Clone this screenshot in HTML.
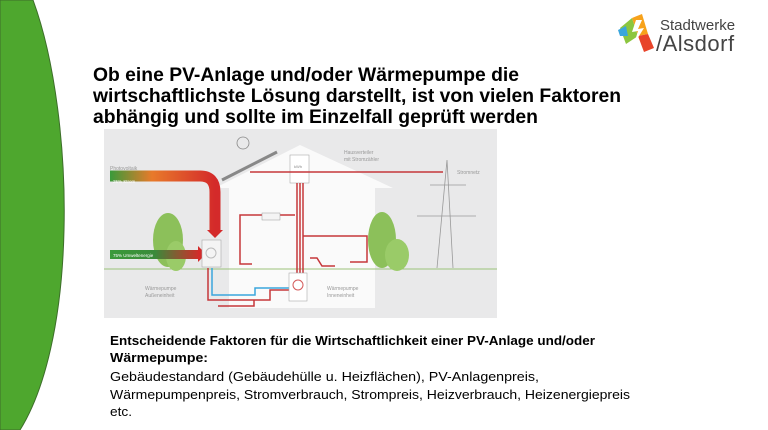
<!DOCTYPE html>
<html><head><meta charset="utf-8"><style>
html,body{margin:0;padding:0;background:#fff;width:768px;height:430px;overflow:hidden}
svg{display:block}
</style></head><body>
<svg width="768" height="430" viewBox="0 0 768 430" xmlns="http://www.w3.org/2000/svg" font-family="Liberation Sans, sans-serif">
<path d="M0,0 L33,0 C55,60 66,150 64,230 C62,320 45,390 20,430 L0,430 Z" fill="#4ea72e" stroke="#3d6e2a" stroke-width="1"/>
<!-- logo -->
<g transform="translate(618,14)">
<polygon points="2,14 14,4 20,22 8,30" fill="#8cc63f"/>
<polygon points="14,4 24,0 30,20 20,22" fill="#f7a21b"/>
<polygon points="20,22 30,20 36,34 26,38" fill="#e8442a"/>
<polygon points="0,16 8,12 10,22 2,22" fill="#3aa6dd"/>
<polygon points="18,6 14,18 20,17 16,30 26,14 20,15 24,6" fill="#fff"/>
</g>
<text x="660" y="30" font-size="15" fill="#444">Stadtwerke</text>
<text x="656" y="51" font-size="22" fill="#444" letter-spacing="0.5">/Alsdorf</text>
<!-- title -->
<g font-weight="bold" font-size="19" fill="#000">
<text x="93" y="81" textLength="426" lengthAdjust="spacingAndGlyphs">Ob eine PV-Anlage und/oder Wärmepumpe die</text>
<text x="93" y="102" textLength="528" lengthAdjust="spacingAndGlyphs">wirtschaftlichste Lösung darstellt, ist von vielen Faktoren</text>
<text x="93" y="123" textLength="445" lengthAdjust="spacingAndGlyphs">abhängig und sollte im Einzelfall geprüft werden</text>
</g>
<!-- diagram -->
<rect x="104" y="129" width="393" height="189" fill="#e9e9ea"/>
<polygon points="215,188 300,145 393,188 375,188 375,308 229,308 229,188" fill="#fafafa"/>
<line x1="104" y1="269" x2="497" y2="269" stroke="#9cc27a" stroke-width="1"/>
<ellipse cx="168" cy="240" rx="15" ry="27" fill="#8cc05a"/>
<ellipse cx="176" cy="256" rx="10" ry="15" fill="#9acb68"/>
<ellipse cx="382" cy="240" rx="14" ry="28" fill="#8cc05a"/>
<ellipse cx="397" cy="255" rx="12" ry="16" fill="#9acb68"/>
<g stroke="#999" stroke-width="0.8" fill="none">
<polyline points="437,268 447,160 453,268"/><line x1="430" y1="185" x2="466" y2="185"/><line x1="417" y1="216" x2="476" y2="216"/>
</g>
<text x="457" y="174" font-size="5" fill="#999">Stromnetz</text>
<circle cx="243" cy="143" r="6" fill="none" stroke="#888" stroke-width="0.8"/>
<line x1="222" y1="180" x2="277" y2="152" stroke="#888" stroke-width="3"/>
<defs><linearGradient id="g1" x1="0" x2="1"><stop offset="0" stop-color="#3a9a3a"/><stop offset="0.4" stop-color="#e87a2a"/><stop offset="1" stop-color="#d42a2a"/></linearGradient>
<linearGradient id="g2" x1="0" x2="1"><stop offset="0" stop-color="#3a9a3a"/><stop offset="0.5" stop-color="#3a8a3a"/><stop offset="1" stop-color="#d42a2a"/></linearGradient></defs>
<path d="M110,176 L200,176 Q215,176 215,192 L215,230" stroke="url(#g1)" stroke-width="11" fill="none"/>
<polygon points="207,230 223,230 215,238" fill="#d42a2a"/>
<rect x="110" y="250" width="90" height="9" fill="url(#g2)"/>
<polygon points="198,246 206,254 198,262" fill="#d42a2a"/>
<text x="113" y="183" font-size="4.5" fill="#fff">25% Strom</text>
<text x="113" y="257" font-size="4.5" fill="#fff">75% Umweltenergie</text>
<text x="110" y="170" font-size="5" fill="#999">Photovoltaik</text>
<rect x="202" y="240" width="19" height="27" fill="#f4f4f4" stroke="#aaa" stroke-width="0.6"/>
<circle cx="211" cy="253" r="5" fill="none" stroke="#bbb"/>
<text x="145" y="290" font-size="5" fill="#999">Wärmepumpe</text>
<text x="145" y="297" font-size="5" fill="#999">Außeneinheit</text>
<rect x="290" y="155" width="19" height="28" fill="#fff" stroke="#aaa" stroke-width="0.6"/>
<text x="294" y="168" font-size="4" fill="#888">kWh</text>
<text x="344" y="154" font-size="5" fill="#999">Hausverteiler</text>
<text x="344" y="161" font-size="5" fill="#999">mit Stromzähler</text>
<g stroke="#c6373a" stroke-width="1.5" fill="none">
<line x1="250" y1="172" x2="443" y2="172"/>
<line x1="297" y1="183" x2="297" y2="273"/><line x1="300" y1="183" x2="300" y2="273"/><line x1="303" y1="183" x2="303" y2="273"/>
<path d="M295,215 L240,215 L240,264 L252,264"/>
<path d="M303,236 L367,236 L367,262 L350,262"/>
<path d="M310,258 L317,258 L322,266 L335,266"/>
<path d="M208,268 L208,300 L270,300 L270,290 L290,290"/>
<path d="M218,306 L254,306 L254,300"/>
</g>
<path d="M212,268 L212,295 L255,295 L255,288 L290,288" stroke="#3aa6dd" stroke-width="1.5" fill="none"/>
<rect x="262" y="213" width="18" height="7" fill="#f4f4f4" stroke="#999" stroke-width="0.5"/>
<rect x="289" y="273" width="18" height="28" fill="#fff" stroke="#aaa" stroke-width="0.6"/>
<circle cx="298" cy="285" r="5" fill="none" stroke="#d45a5a"/>
<text x="327" y="290" font-size="5" fill="#999">Wärmepumpe</text>
<text x="327" y="297" font-size="5" fill="#999">Inneneinheit</text>
<g font-size="13" fill="#000">
<text x="110" y="345" font-weight="bold" textLength="485" lengthAdjust="spacingAndGlyphs">Entscheidende Faktoren für die Wirtschaftlichkeit einer PV-Anlage und/oder</text>
<text x="110" y="362" font-weight="bold" textLength="98" lengthAdjust="spacingAndGlyphs">Wärmepumpe:</text>
<text x="110" y="381" textLength="429" lengthAdjust="spacingAndGlyphs">Gebäudestandard (Gebäudehülle u. Heizflächen), PV-Anlagenpreis,</text>
<text x="110" y="399" textLength="520" lengthAdjust="spacingAndGlyphs">Wärmepumpenpreis, Stromverbrauch, Strompreis, Heizverbrauch, Heizenergiepreis</text>
<text x="110" y="416" textLength="22" lengthAdjust="spacingAndGlyphs">etc.</text>
</g>
</svg>
</body></html>
